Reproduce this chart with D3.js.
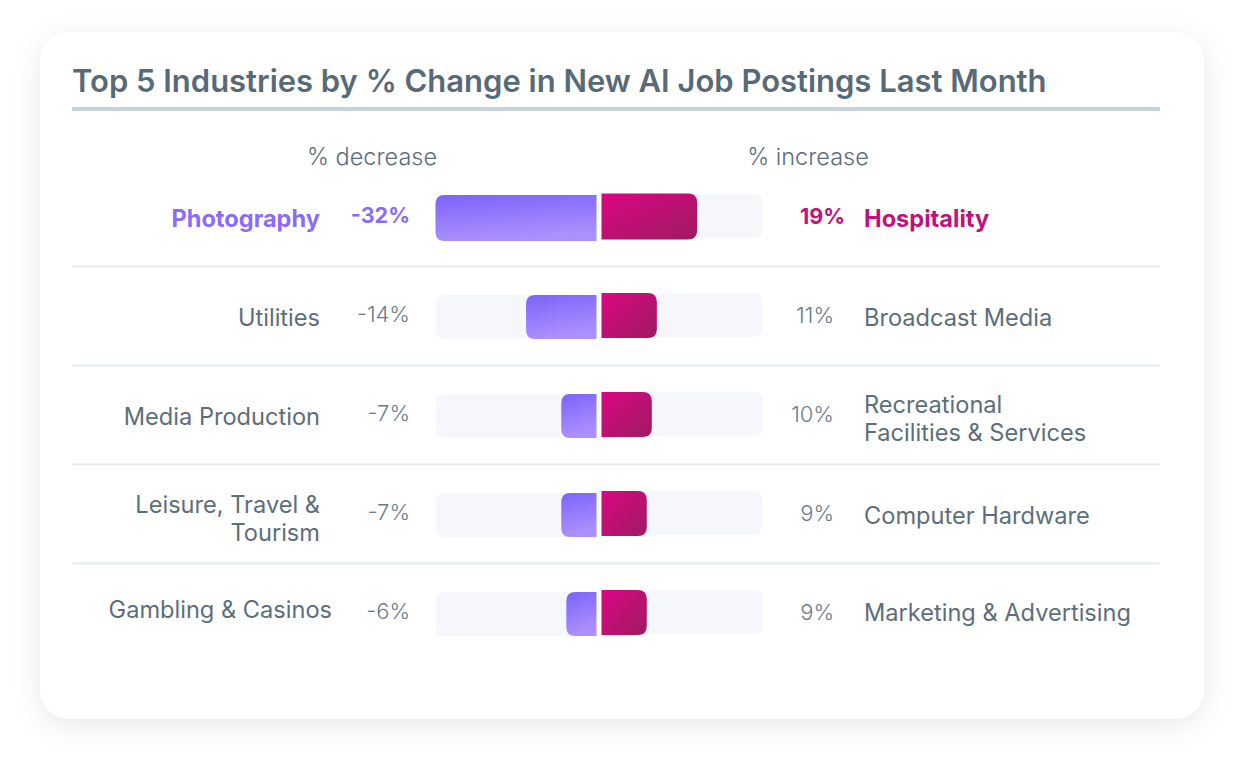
<!DOCTYPE html>
<html>
<head>
<meta charset="utf-8">
<script src="https://cdn.jsdelivr.net/npm/d3@7"></script>
<style>
  html, body { margin: 0; padding: 0; background: #ffffff; }
  svg { display: block; }
  text { font-family: Inter, "Open Sans", sans-serif; }
</style>
</head>
<body>
<svg id="chart" width="1244" height="768"></svg>
<script>
// ---- Data ----
const title = "Top 5 Industries by % Change in New AI Job Postings Last Month";
const decreaseHeader = "% decrease";
const increaseHeader = "% increase";
const decreaseIndustries = ["Photography", "Utilities", "Media Production", "Leisure, Travel &\nTourism", "Gambling & Casinos"];
const decreaseValues = [-32, -14, -7, -7, -6];
const increaseIndustries = ["Hospitality", "Broadcast Media", "Recreational\nFacilities & Services", "Computer Hardware", "Marketing & Advertising"];
const increaseValues = [19, 11, 10, 9, 9];

// ---- Layout ----
const W = 1244, H = 768;
const svg = d3.select("#chart");
const defs = svg.append("defs");

const shadow = defs.append("filter").attr("id", "shadow")
  .attr("x", "-10%").attr("y", "-10%").attr("width", "120%").attr("height", "125%");
shadow.append("feDropShadow").attr("dx", 0).attr("dy", 6).attr("stdDeviation", 14)
  .attr("flood-color", "#000").attr("flood-opacity", 0.09);

const gPurple = defs.append("linearGradient").attr("id", "gPurple")
  .attr("x1", "0").attr("y1", "0").attr("x2", "0.25").attr("y2", "1");
gPurple.append("stop").attr("offset", "0%").attr("stop-color", "#7c63fb");
gPurple.append("stop").attr("offset", "100%").attr("stop-color", "#ac90fd");

const gPink = defs.append("linearGradient").attr("id", "gPink")
  .attr("x1", "0").attr("y1", "0").attr("x2", "1").attr("y2", "1");
gPink.append("stop").attr("offset", "0%").attr("stop-color", "#dc0684");
gPink.append("stop").attr("offset", "100%").attr("stop-color", "#9e1b61");

// card
svg.append("rect").attr("x", 40).attr("y", 32).attr("width", 1164).attr("height", 687)
  .attr("rx", 30).attr("fill", "#fff").attr("filter", "url(#shadow)");

const textColor = "#5d6e7b";
const valueColor = "#6c7d89";

// title (sized to fit the reference width)
const titleText = svg.append("text").attr("x", 72).attr("y", 92)
  .attr("font-size", 30).attr("font-weight", 600).attr("fill", "#596a77")
  .text(title);
const tw = titleText.node().getComputedTextLength();
titleText.attr("font-size", 30 * 975 / tw);
svg.append("rect").attr("x", 72).attr("y", 107).attr("width", 1088).attr("height", 4).attr("fill", "#c5d2dc");

// headers
const hSize = 23.5;
svg.append("text").attr("x", 372).attr("y", 156).attr("dominant-baseline", "central")
  .attr("text-anchor", "middle").attr("font-size", hSize).attr("font-weight", 300).attr("fill", textColor)
  .text(decreaseHeader);
svg.append("text").attr("x", 808).attr("y", 156).attr("dominant-baseline", "central")
  .attr("text-anchor", "middle").attr("font-size", hSize).attr("font-weight", 300).attr("fill", textColor)
  .text(increaseHeader);

// scales
const n = decreaseValues.length;
const y = d3.scaleLinear().domain([0, n - 1]).range([217, 613]);
const maxAbs = d3.max([...decreaseValues.map(Math.abs), ...increaseValues]);
const zeroX = 599;
const gap = 2.5;
const xLeft = d3.scaleLinear().domain([0, maxAbs]).range([0, 161]);
const xRight = d3.scaleLinear().domain([0, maxAbs]).range([0, 161]);
const barH = 44, r = 9;

// separators
for (let i = 0; i < n - 1; i++) {
  const sy = (y(i) + y(i + 1)) / 2;
  svg.append("rect").attr("x", 72).attr("y", sy - 1).attr("width", 1088).attr("height", 2).attr("fill", "#e6ebef");
}

function leftBarPath(x0, x1, yc, h, rad) {
  const t = yc - h / 2, b = yc + h / 2;
  const rr = Math.min(rad, (x1 - x0) / 2);
  return `M${x1},${t} H${x0 + rr} Q${x0},${t} ${x0},${t + rr} V${b - rr} Q${x0},${b} ${x0 + rr},${b} H${x1} Z`;
}
function rightBarPath(x0, x1, yc, h, rad) {
  const t = yc - h / 2, b = yc + h / 2;
  const rr = Math.min(rad, (x1 - x0) / 2);
  return `M${x0},${t} H${x1 - rr} Q${x1},${t} ${x1},${t + rr} V${b - rr} Q${x1},${b} ${x1 - rr},${b} H${x0} Z`;
}

function multiline(sel, str, x, yc, anchor, size, weight, fill, lh) {
  const lines = str.split("\n");
  const t = sel.append("text").attr("x", x).attr("text-anchor", anchor)
    .attr("font-size", size).attr("font-weight", weight).attr("fill", fill)
    .attr("dominant-baseline", "central");
  const y0 = yc - (lines.length - 1) * lh / 2;
  lines.forEach((l, k) => t.append("tspan").attr("x", x).attr("y", y0 + k * lh).text(l));
  return t;
}

const rows = svg.append("g");
decreaseValues.forEach((dv, i) => {
  const yc = y(i);
  const iv = increaseValues[i];
  const first = i === 0;
  // tracks
  rows.append("path").attr("d", leftBarPath(zeroX - gap - xLeft(maxAbs), zeroX - gap, yc + 1, barH, r)).attr("fill", "#f6f7fb");
  rows.append("path").attr("d", rightBarPath(zeroX + gap, zeroX + gap + xRight(maxAbs), yc - 1, barH, r)).attr("fill", "#f6f7fb");
  // bars
  rows.append("path").attr("d", leftBarPath(zeroX - gap - xLeft(Math.abs(dv)), zeroX - gap, yc + 1, barH + (first ? 2 : 0), r)).attr("fill", "url(#gPurple)");
  rows.append("path").attr("d", rightBarPath(zeroX + gap, zeroX + gap + xRight(iv), yc - 0.5, barH + (first ? 2 : 1), r)).attr("fill", "url(#gPink)");

  const size = 23.6;
  const lColor = first ? "#8a6cf9" : textColor;
  const rColor = first ? "#c0137a" : textColor;
  const lvColor = first ? "#8a6cf9" : valueColor;
  const rvColor = first ? "#c0137a" : valueColor;
  const wt = first ? 700 : 400;
  const labelRightX = i === n - 1 ? 332 : 320;
  const labelDy = i === n - 1 ? -4 : (decreaseIndustries[i].includes("\n") ? 4 : 1);
  multiline(rows, decreaseIndustries[i], labelRightX, yc + labelDy, "end", size, wt, lColor, 28);
  multiline(rows, dv + "%", 410, yc - 2, "end", first ? 21.5 : 22, first ? 700 : 300, lvColor, 28);
  multiline(rows, iv + "%", first ? 845 : 834, yc - 1, "end", first ? 21.5 : 22, first ? 700 : 300, rvColor, 28);
  const rDy = increaseIndustries[i].includes("\n") ? 3 : (i === n - 1 ? -1 : 1);
  multiline(rows, increaseIndustries[i], 864, yc + rDy, "start", size, wt, rColor, 28);
});
</script>
</body>
</html>
